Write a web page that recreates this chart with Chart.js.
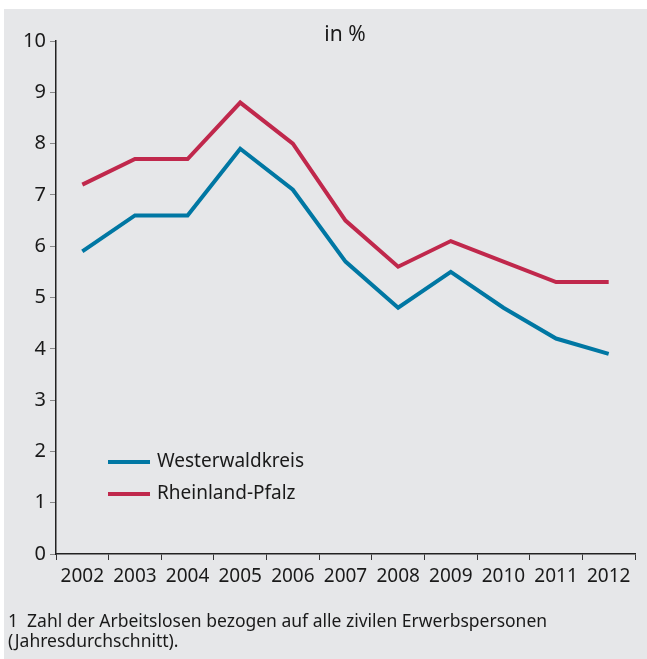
<!DOCTYPE html>
<html>
<head>
<meta charset="utf-8">
<script src="https://cdn.jsdelivr.net/npm/chart.js@4"></script>
<style>
  body { margin: 0; background: #fff; }
  canvas { display: block; }
</style>
</head>
<body>
<canvas id="chart" width="647" height="659"></canvas>
<script>
const years = ["2002", "2003", "2004", "2005", "2006", "2007", "2008", "2009", "2010", "2011", "2012"];
const westerwald = [5.9, 6.6, 6.6, 7.9, 7.1, 5.7, 4.8, 5.5, 4.8, 4.2, 3.9];
const rheinlandPfalz = [7.2, 7.7, 7.7, 8.8, 8.0, 6.5, 5.6, 6.1, 5.7, 5.3, 5.3];
const yTicks = [0, 1, 2, 3, 4, 5, 6, 7, 8, 9, 10];

const blue = "#0077a3";
const red = "#c0284c";
const textColor = "#1a1a1a";
const fontFamily = "'Noto Sans', 'Open Sans', sans-serif";

// background + title + legend + footnote
const decor = {
  id: "decor",
  beforeDraw(chart) {
    const ctx = chart.ctx;
    ctx.save();
    ctx.fillStyle = "#e6e7e9";
    ctx.fillRect(4, 9, chart.width - 4, chart.height - 9);
    ctx.restore();
  },
  afterDraw(chart) {
    const ctx = chart.ctx;
    ctx.save();
    ctx.fillStyle = textColor;
    ctx.font = "21px " + fontFamily;
    ctx.textBaseline = "middle";
    ctx.textAlign = "center";
    ctx.fillText("in %", 345, 35);

    ctx.font = "19px " + fontFamily;
    ctx.textAlign = "left";
    const items = [["Westerwaldkreis", blue, 462], ["Rheinland-Pfalz", red, 494]];
    items.forEach(([label, color, y]) => {
      ctx.strokeStyle = color;
      ctx.lineWidth = 4;
      ctx.beginPath();
      ctx.moveTo(108, y);
      ctx.lineTo(150, y);
      ctx.stroke();
      ctx.fillText(label, 157, y);
    });

    ctx.font = "17.5px " + fontFamily;
    ctx.fillText("1  Zahl der Arbeitslosen bezogen auf alle zivilen Erwerbspersonen", 8, 622);
    ctx.fillText("(Jahresdurchschnitt).", 8, 642);
    ctx.restore();
  }
};

new Chart(document.getElementById("chart"), {
  type: "line",
  data: {
    labels: years,
    datasets: [
      { label: "Westerwaldkreis", data: westerwald, borderColor: blue },
      { label: "Rheinland-Pfalz", data: rheinlandPfalz, borderColor: red }
    ]
  },
  options: {
    responsive: false,
    animation: false,
    devicePixelRatio: 1,
    layout: { padding: { top: 41, right: 12, left: 0, bottom: 0 } },
    elements: {
      line: { borderWidth: 4, tension: 0, borderJoinStyle: "miter" },
      point: { radius: 0 }
    },
    plugins: { legend: { display: false }, tooltip: { enabled: false } },
    scales: {
      x: {
        offset: true,
        grid: { offset: true, drawOnChartArea: false, tickLength: 6, color: "#333" },
        border: { color: "#222", width: 1.5 },
        ticks: { color: textColor, font: { size: 19, family: fontFamily }, padding: 5, maxRotation: 0, autoSkip: false },
        afterFit(scale) { scale.height = 105; }
      },
      y: {
        min: 0,
        max: 10,
        afterBuildTicks(scale) { scale.ticks = yTicks.map(v => ({ value: v })); },
        grid: { drawOnChartArea: false, tickLength: 6, color: "#888" },
        border: { color: "#222", width: 1.5 },
        ticks: { color: textColor, font: { size: 20, family: fontFamily }, padding: 4 },
        afterFit(scale) { scale.width = 56; }
      }
    }
  },
  plugins: [decor]
});
</script>
</body>
</html>
